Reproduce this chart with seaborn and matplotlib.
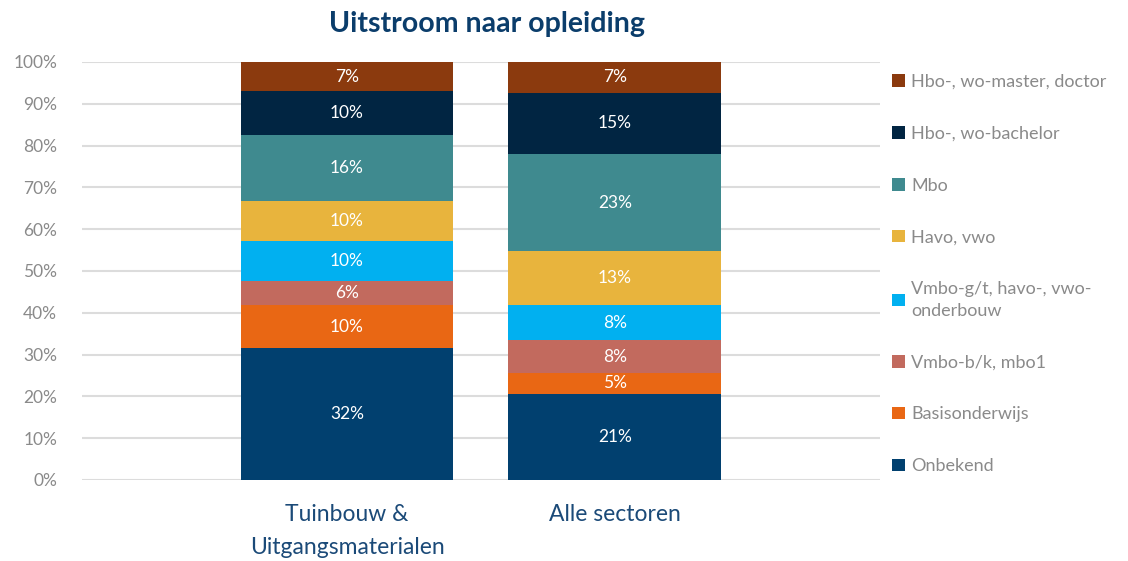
import matplotlib
matplotlib.use("Agg")
import matplotlib.pyplot as plt
import pandas as pd
import seaborn as sns

sectors = ["Tuinbouw &\nUitgangsmaterialen", "Alle sectoren"]

# bottom to top
levels = ["Onbekend", "Basisonderwijs", "Vmbo-b/k, mbo1",
          "Vmbo-g/t, havo-, vwo-\nonderbouw", "Havo, vwo", "Mbo",
          "Hbo-, wo-bachelor", "Hbo-, wo-master, doctor"]

tuinbouw = [31.6, 10.2, 5.7, 9.7, 9.6, 15.8, 10.4, 7.0]
alle = [20.6, 5.0, 7.8, 8.4, 12.9, 23.3, 14.6, 7.4]

colors = ["#01406F", "#E96714", "#C26A5E", "#01B0F0",
          "#E8B43D", "#3F8A8F", "#012542", "#8B3A0E"]

rows = []
for sector, vals in zip(sectors, [tuinbouw, alle]):
    cum = 0
    for lvl, v in zip(levels, vals):
        rows.append({"sector": sector, "level": lvl, "value": v,
                     "bottom": cum, "top": cum + v})
        cum += v
df = pd.DataFrame(rows)

sns.set_theme(style="white")
plt.rcParams["font.family"] = ["Lato", "DejaVu Sans"]

fig = plt.figure(figsize=(11.28, 5.61), dpi=100)
ax = fig.add_axes([0.0727, 0.1444, 0.7073, 0.7451])

# classic stacked trick: tallest cumulative first, smaller on top
for lvl, col in reversed(list(zip(levels, colors))):
    sub = df[df.level == lvl]
    sns.barplot(data=sub, x="sector", y="top", order=sectors, color=col,
                saturation=1, width=0.795, label=lvl, ax=ax, zorder=3,
                linewidth=0, edgecolor=col)

for _, r in df.iterrows():
    x = sectors.index(r["sector"])
    ax.text(x, (r["bottom"] + r["top"]) / 2, "%.0f%%" % r["value"],
            ha="center", va="center", color="white", fontsize=12.5, zorder=5)

ax.set_ylim(0, 100)
ax.set_xlim(-0.99, 1.99)
ax.set_yticks(range(0, 101, 10))
ax.set_yticklabels([f"{t}%" for t in range(0, 101, 10)])
ax.yaxis.grid(True, color="#dcdcdc", linewidth=1.5, zorder=0)
ax.set_axisbelow(True)
for s in ax.spines.values():
    s.set_visible(False)
ax.tick_params(axis="y", length=0, labelsize=12.5, labelcolor="#8a8a8a", pad=18)
ax.tick_params(axis="x", length=0, labelsize=16.5, labelcolor="#1b4a78", pad=17)
for t in ax.get_xticklabels():
    t.set_linespacing(1.7)
ax.set_xlabel("")
ax.set_ylabel("")

fig.text(0.432, 0.957, "Uitstroom naar opleiding", ha="center", va="center",
         fontsize=20.5, fontweight="bold", color="#0b3d6b")

leg = ax.legend(loc="upper left", bbox_to_anchor=(0.791, 0.868),
                bbox_transform=fig.transFigure, frameon=False, fontsize=13,
                labelcolor="#8a8a8a", handlelength=0.7, handleheight=0.7,
                handletextpad=0.35, labelspacing=1.98, borderpad=0,
                borderaxespad=0)
for t in leg.get_texts():
    t.set_linespacing(1.45)

fig.savefig("out.png", dpi=100)
